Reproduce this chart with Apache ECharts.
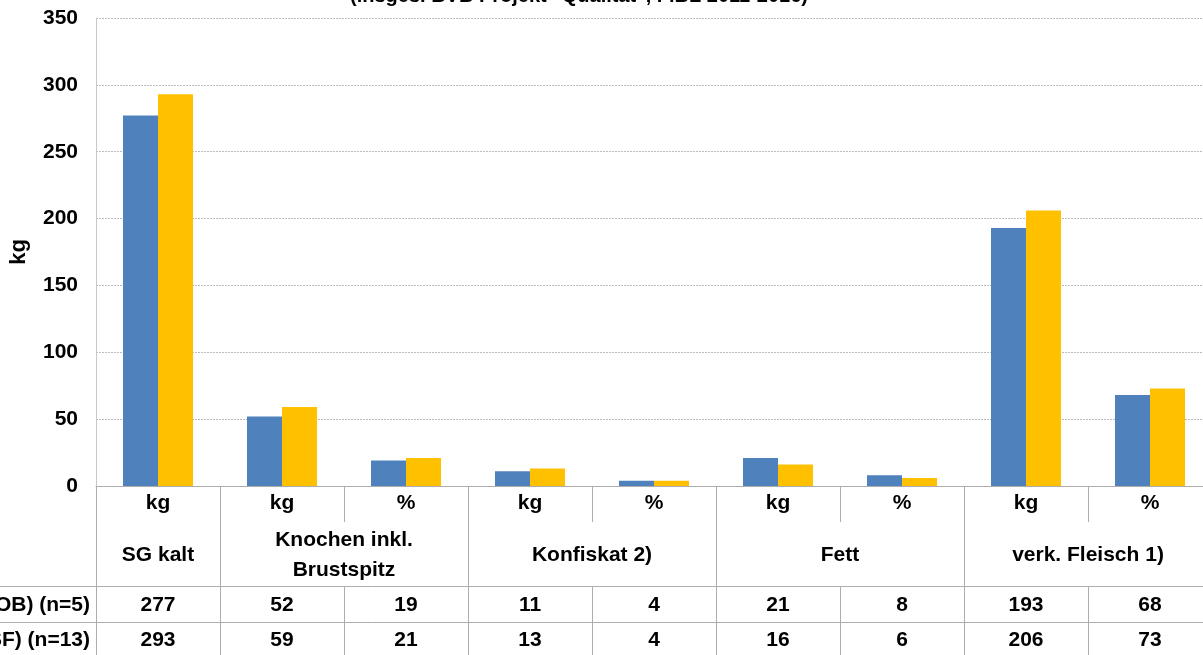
<!DOCTYPE html>
<html>
<head>
<meta charset="utf-8">
<script src="https://cdn.jsdelivr.net/npm/echarts@6/dist/echarts.min.js"></script>
<style>
  html, body { margin: 0; padding: 0; background: #fff; }
  #chart { width: 1203px; height: 655px; }
</style>
</head>
<body>
<div id="chart"></div>
<script>
// Slaughter yield components per animal, two groups, with a data table underneath
const units = ['kg', 'kg', '%', 'kg', '%', 'kg', '%', 'kg', '%'];
const groupNames = ['SG kalt', 'Knochen inkl.\nBrustspitz', 'Konfiskat 2)', 'Fett', 'verk. Fleisch 1)'];
const groupCenters = [0.5, 2, 4, 6, 8];
const groupBounds = [0, 1, 3, 5, 7, 9];
const robLabel = 'Ochsen (ROB) (n=5)';
const sfLabel = 'Ochsen (SF) (n=13)';
const robValues = [277, 52, 19, 11, 4, 21, 8, 193, 68];
const sfValues = [293, 59, 21, 13, 4, 16, 6, 206, 73];
const yTicks = { min: 0, max: 350, interval: 50 };
const titleText = '(insges. BVB Projekt "Qualität", FiBL 2011-2016)';

const FONT = '"Liberation Sans Narrow", "Arial Narrow", "Liberation Sans", Arial, sans-serif';
const lineGrey = '#ADADAD';
const txt = { fontFamily: FONT, fontWeight: 'bold', color: '#000', fontSize: 21 };

const chart = echarts.init(document.getElementById('chart'), null, { renderer: 'canvas' });

// one data-table row: a category axis pushed below the plot, labels = row values
const tableAxis = (values, offset, margin) => ({
  type: 'category', gridIndex: 0, position: 'bottom', offset: offset,
  data: units.map((u, i) => i), boundaryGap: true,
  axisLine: { show: true, onZero: false, lineStyle: { color: lineGrey, width: 1 } },
  axisTick: { show: true, length: 36, interval: 0, lineStyle: { color: lineGrey } },
  axisLabel: Object.assign({}, txt, { interval: 0, margin: margin, verticalAlign: 'middle',
    formatter: (v, i) => String(values[i]) }),
  splitLine: { show: false }
});

// row header cell to the left of the plot
const headerAxis = (label, offset, margin) => ({
  type: 'value', gridIndex: 1, position: 'bottom', offset: offset, min: 0, max: 1,
  axisLine: { show: true, onZero: false, lineStyle: { color: lineGrey, width: 1 } },
  axisTick: { show: false },
  splitLine: { show: false },
  axisLabel: Object.assign({}, txt, { customValues: [1], margin: margin, verticalAlign: 'middle',
    align: 'right', alignMaxLabel: 'right', padding: [0, 6, 0, 0], formatter: () => label })
});

chart.setOption({
  animation: false,
  backgroundColor: '#fff',
  title: {
    text: titleText, left: 345, top: -19,
    textStyle: { fontFamily: FONT, fontWeight: 'bold', fontSize: 20, color: '#000' }
  },
  grid: [
    { left: 96, top: 18, width: 1116, height: 468, outerBoundsMode: 'none', containLabel: false },
    { left: -300, top: 18, width: 396, height: 468, outerBoundsMode: 'none', containLabel: false }
  ],
  xAxis: [
    {
      type: 'category', gridIndex: 0, data: units, boundaryGap: true,
      axisLine: { show: true, onZero: false, lineStyle: { color: lineGrey, width: 1 } },
      axisTick: { show: true, length: 36, interval: 0, lineStyle: { color: lineGrey } },
      axisLabel: Object.assign({}, txt, { interval: 0, margin: 17, verticalAlign: 'middle' }),
      splitLine: { show: false }
    },
    {
      type: 'value', gridIndex: 0, position: 'bottom', min: 0, max: 9,
      axisLine: { show: false, onZero: false },
      axisTick: { show: true, customValues: groupBounds, length: 100, lineStyle: { color: lineGrey } },
      axisLabel: Object.assign({}, txt, { customValues: groupCenters, margin: 69, verticalAlign: 'middle',
        lineHeight: 30, formatter: (v) => groupNames[groupCenters.indexOf(v)] }),
      splitLine: { show: false }
    },
    tableAxis(robValues, 100, 19),
    tableAxis(sfValues, 136, 18),
    headerAxis(robLabel, 100, 19),
    headerAxis(sfLabel, 136, 18)
  ],
  yAxis: [
    {
      type: 'value', gridIndex: 0, min: yTicks.min, max: yTicks.max, interval: yTicks.interval,
      name: 'kg', nameLocation: 'middle', nameGap: 66, nameRotate: 90,
      nameTextStyle: { fontFamily: FONT, fontWeight: 'bold', fontSize: 22, color: '#000' },
      axisLine: { show: true, onZero: false, lineStyle: { color: '#C8C8C8', width: 1 } },
      axisTick: { show: false },
      axisLabel: Object.assign({}, txt, { margin: 18 }),
      splitLine: { show: true, lineStyle: { color: '#BDBDBD', type: [2, 1], width: 1 } }
    },
    { type: 'value', gridIndex: 1, show: false, min: 0, max: 1 }
  ],
  series: [
    {
      name: 'ROB', type: 'bar', xAxisIndex: 0, yAxisIndex: 0, data: robValues,
      barWidth: 35, barGap: '0%', itemStyle: { color: '#4F81BD' }
    },
    {
      name: 'SF', type: 'bar', xAxisIndex: 0, yAxisIndex: 0, data: sfValues,
      barWidth: 35, barGap: '0%', itemStyle: { color: '#FFC000' }
    }
  ]
});
</script>
</body>
</html>
